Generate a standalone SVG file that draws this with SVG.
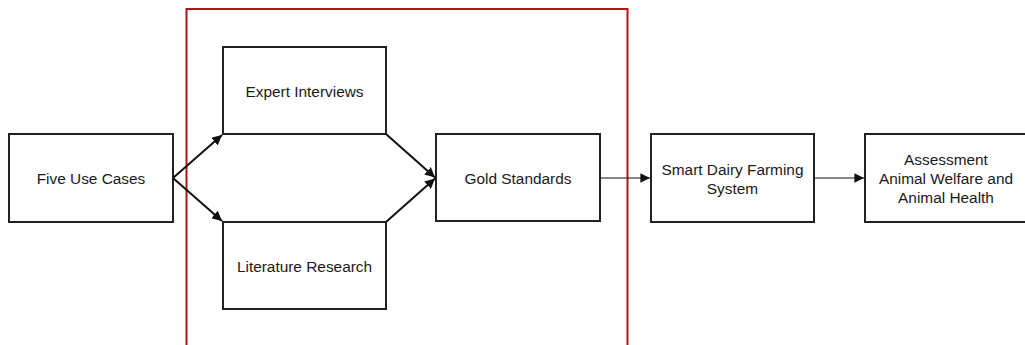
<svg xmlns="http://www.w3.org/2000/svg" width="1025" height="345" viewBox="0 0 1025 345">
  <style>
    .box { fill: #ffffff; stroke: #222222; stroke-width: 2; }
    .lbl { font-family: "Liberation Sans", Arial, sans-serif; font-size: 15.4px; fill: #1a1a1a; text-anchor: middle; dominant-baseline: central; }
    .thick { fill: none; stroke: #111111; stroke-width: 2; }
    .thin { fill: none; stroke: #111111; stroke-width: 1.2; }
    .frame { fill: none; stroke: #b01515; stroke-width: 2; }
  </style>
  <defs>
    <marker id="ah" viewBox="0 0 10 10" refX="10" refY="5" markerWidth="5" markerHeight="5" markerUnits="strokeWidth" orient="auto">
      <path d="M0,0 L10,5 L0,10 z" fill="#111111"/>
    </marker>
    <marker id="ah2" viewBox="0 0 10 10" refX="10" refY="5" markerWidth="8" markerHeight="8" markerUnits="strokeWidth" orient="auto">
      <path d="M0,0 L10,5 L0,10 z" fill="#111111"/>
    </marker>
  </defs>
  <rect width="1025" height="345" fill="#ffffff"/>

  <g id="frame">
    <rect class="frame" x="186.5" y="9" width="441" height="345"/>
  </g>

  <g id="n-five">
    <rect class="box" x="9" y="134" width="164" height="88"/>
    <text class="lbl" x="91" y="178">Five Use Cases</text>
  </g>
  <g id="n-expert">
    <rect class="box" x="223" y="47" width="163" height="87"/>
    <text class="lbl" x="304.5" y="91">Expert Interviews</text>
  </g>
  <g id="n-literature">
    <rect class="box" x="223" y="222" width="163" height="87"/>
    <text class="lbl" x="304.5" y="266">Literature Research</text>
  </g>
  <g id="n-gold">
    <rect class="box" x="436" y="134" width="164" height="87"/>
    <text class="lbl" x="518" y="178">Gold Standards</text>
  </g>
  <g id="n-smart">
    <rect class="box" x="651" y="134" width="163" height="88"/>
    <text class="lbl" x="732.5" y="169">Smart Dairy Farming</text>
    <text class="lbl" x="732.5" y="188">System</text>
  </g>
  <g id="n-assess">
    <rect class="box" x="865" y="134" width="164" height="88"/>
    <text class="lbl" x="946" y="159">Assessment</text>
    <text class="lbl" x="946" y="178">Animal Welfare and</text>
    <text class="lbl" x="946" y="197">Animal Health</text>
  </g>

  <g id="connectors">
    <path class="thick" d="M173,178 L222,135" marker-end="url(#ah)"/>
    <path class="thick" d="M173,178 L222,221" marker-end="url(#ah)"/>
    <path class="thick" d="M386,134 L435,177.5" marker-end="url(#ah)"/>
    <path class="thick" d="M386,222 L435,178.5" marker-end="url(#ah)"/>
    <path class="thin" d="M600,178 L650,178" marker-end="url(#ah2)"/>
    <path class="thin" d="M814,178 L864,178" marker-end="url(#ah2)"/>
  </g>
</svg>
